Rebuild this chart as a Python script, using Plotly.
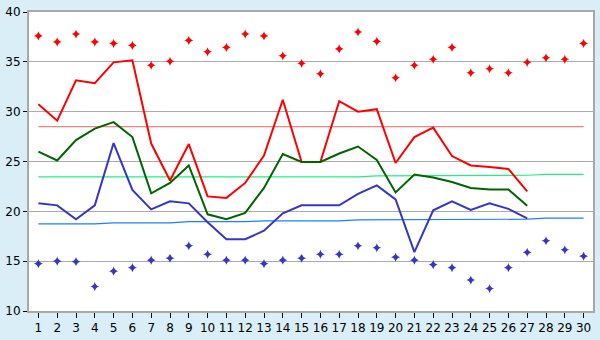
import plotly.graph_objects as go

days = list(range(1, 31))

# Daily observed temperatures (°C), days 1-27
temp_max = [30.75, 29.1, 33.15, 32.85, 34.95, 35.15, 26.8, 23.1, 26.75, 21.5,
            21.35, 22.85, 25.6, 31.2, 24.95, 24.95, 31.05, 30.0, 30.25, 24.85,
            27.45, 28.4, 25.55, 24.6, 24.45, 24.25, 22.0]
temp_mean = [26.0, 25.1, 27.15, 28.3, 28.95, 27.45, 21.8, 22.85, 24.6, 19.7,
             19.2, 19.85, 22.35, 25.75, 24.95, 24.95, 25.8, 26.5, 25.15, 21.9,
             23.7, 23.4, 22.95, 22.35, 22.2, 22.2, 20.55]
temp_min = [20.8, 20.6, 19.2, 20.6, 26.85, 22.15, 20.2, 21.0, 20.8, 18.9,
            17.2, 17.2, 18.05, 19.8, 20.6, 20.6, 20.6, 21.75, 22.6, 21.2,
            15.9, 20.1, 21.0, 20.15, 20.8, 20.25, 19.3]

# Normal values per day
normal_max = [28.5] * 30
normal_mean = [23.45] * 18 + [23.55] * 5 + [23.62] * 4 + [23.7] * 3
normal_min = ([18.74] * 4 + [18.84] * 4 + [18.96] * 4 + [19.05] * 5 +
              [19.15] * 5 + [19.21] * 5 + [19.31] * 3)

# Record high / record low per day
record_max = [37.6, 37.0, 37.8, 37.0, 36.85, 36.65, 34.65, 35.05, 37.15, 36.0,
              36.45, 37.8, 37.6, 35.6, 34.85, 33.8, 36.3, 38.0, 37.05, 33.4,
              34.65, 35.25, 36.45, 33.9, 34.3, 33.9, 34.95, 35.4, 35.25, 36.85]
record_min = [14.75, 15.0, 14.95, 12.45, 14.0, 14.35, 15.1, 15.3, 16.55, 15.7,
              15.1, 15.1, 14.75, 15.1, 15.3, 15.7, 15.7, 16.55, 16.35, 15.4,
              15.1, 14.65, 14.35, 13.1, 12.25, 14.35, 15.9, 17.05, 16.15, 15.5]

x_obs = days[:len(temp_max)]

fig = go.Figure()

# normals
fig.add_trace(go.Scatter(x=days, y=normal_max, mode="lines",
                         line=dict(color="#FF8080", width=1.2)))
fig.add_trace(go.Scatter(x=days, y=normal_mean, mode="lines",
                         line=dict(color="#22EE88", width=1.2)))
fig.add_trace(go.Scatter(x=days, y=normal_min, mode="lines",
                         line=dict(color="#1A80FF", width=1.2)))

# records
fig.add_trace(go.Scatter(x=days, y=record_max, mode="markers",
                         marker=dict(symbol="star-diamond", size=6.5, color="#FF0000",
                                     line=dict(width=0))))
fig.add_trace(go.Scatter(x=days, y=record_min, mode="markers",
                         marker=dict(symbol="star-diamond", size=6.5, color="#3535C8",
                                     line=dict(width=0))))

# observed
fig.add_trace(go.Scatter(x=x_obs, y=temp_max, mode="lines",
                         line=dict(color="#FF0000", width=2)))
fig.add_trace(go.Scatter(x=x_obs, y=temp_mean, mode="lines",
                         line=dict(color="#006400", width=2)))
fig.add_trace(go.Scatter(x=x_obs, y=temp_min, mode="lines",
                         line=dict(color="#3535C8", width=2)))

axis_font = dict(family="DejaVu Sans", size=12, color="#000000")

fig.update_layout(
    width=600, height=340,
    margin=dict(l=20, r=5, t=5, b=20),
    paper_bgcolor="#D9EEF6",
    plot_bgcolor="#FFFFFF",
    showlegend=False,
    xaxis=dict(range=[0.5, 30.5], tickvals=days, ticktext=[str(d) for d in days],
               showgrid=False, zeroline=False, ticks="outside", ticklen=5,
               tickcolor="#000000", tickfont=axis_font,
               showline=True, linecolor="#A8A8A8", linewidth=2, mirror=True),
    yaxis=dict(range=[10, 40], tickvals=[10, 15, 20, 25, 30, 35, 40],
               showgrid=True, gridcolor="#ABABAB", gridwidth=1, zeroline=False,
               ticks="outside", ticklen=4, tickcolor="#000000", tickfont=axis_font,
               showline=True, linecolor="#A8A8A8", linewidth=2, mirror=True),
)

fig.write_html("out.html")
